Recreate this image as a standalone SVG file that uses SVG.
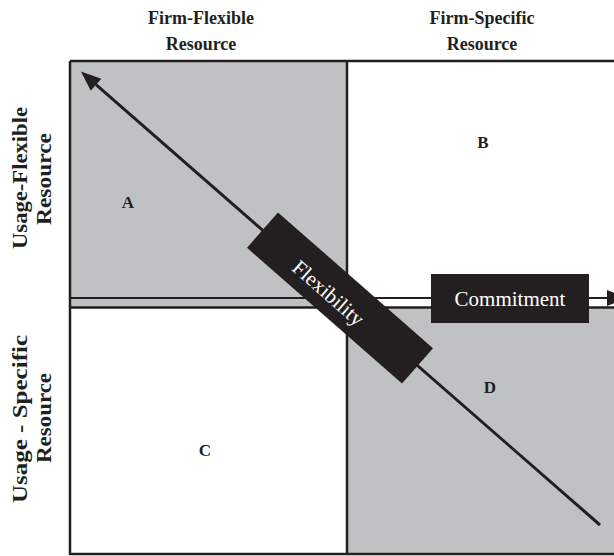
<svg xmlns="http://www.w3.org/2000/svg" width="614" height="556" viewBox="0 0 614 556">
<style>
.hdr{font-family:"Liberation Serif","Times New Roman",serif;font-weight:bold;font-size:18px;fill:#231f20;text-anchor:middle}
.side{font-family:"Liberation Serif","Times New Roman",serif;font-weight:bold;font-size:21px;fill:#231f20;text-anchor:middle}
.q{font-family:"Liberation Serif","Times New Roman",serif;font-weight:bold;font-size:17px;fill:#231f20;text-anchor:middle}
.box{fill:#231f20}
.lbl{font-family:"Liberation Serif","Times New Roman",serif;font-size:21px;fill:#ffffff;text-anchor:middle}
.gray{fill:#c0c1c3}
.edge{stroke:#231f20;stroke-width:2.5;fill:none}
</style>
<defs>
<marker id="ah" markerUnits="userSpaceOnUse" markerWidth="22" markerHeight="18" refX="0" refY="8" orient="auto" overflow="visible">
<path d="M0,0 L20,8 L0,16 z" fill="#231f20"/>
</marker>
</defs>
<g id="headers">
<text class="hdr" x="201" y="24">Firm-Flexible</text>
<text class="hdr" x="201" y="50">Resource</text>
<text class="hdr" x="482" y="24">Firm-Specific</text>
<text class="hdr" x="482" y="50">Resource</text>
<text class="side" transform="translate(27,178) rotate(-90)" textLength="142" lengthAdjust="spacingAndGlyphs">Usage-Flexible</text>
<text class="side" transform="translate(51,179) rotate(-90)" textLength="92" lengthAdjust="spacingAndGlyphs">Resource</text>
<text class="side" transform="translate(27,419) rotate(-90)" textLength="168" lengthAdjust="spacingAndGlyphs">Usage - Specific</text>
<text class="side" transform="translate(51,418) rotate(-90)" textLength="90" lengthAdjust="spacingAndGlyphs">Resource</text>
</g>
<g id="quadA"><rect class="gray" x="70" y="61" width="277" height="246.5"/><text class="q" x="128" y="208">A</text></g>
<g id="quadB"><text class="q" x="483" y="148">B</text></g>
<g id="quadC"><text class="q" x="205" y="456">C</text></g>
<g id="quadD"><rect class="gray" x="347" y="307.5" width="270" height="246.5"/><text class="q" x="490" y="393">D</text></g>
<g id="frame">
<path class="edge" d="M70,61 H620 M70,61 V554 H620 M347,61 V554 M70,307.5 H620"/>
</g>
<g id="connectors">
<line x1="70" y1="298" x2="607" y2="298" stroke="#231f20" stroke-width="2" marker-end="url(#ah)"/>
<line x1="600" y1="525" x2="96" y2="84.7" stroke="#231f20" stroke-width="3" marker-end="url(#ah)"/>
</g>
<g id="flexibility" transform="translate(340,298) rotate(41.2)">
<rect class="box" x="-103" y="-23.5" width="206" height="47"/>
<text class="lbl" x="-12" y="11">Flexibility</text>
</g>
<g id="commitment">
<rect class="box" x="431" y="274" width="158" height="49"/>
<text class="lbl" x="510" y="306">Commitment</text>
</g>
</svg>
